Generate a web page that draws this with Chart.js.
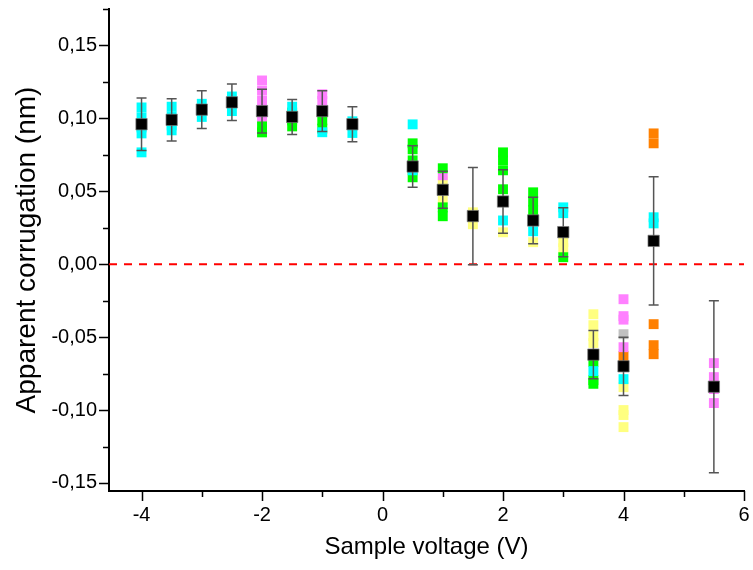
<!DOCTYPE html>
<html>
<head>
<meta charset="utf-8">
<script src="https://cdn.jsdelivr.net/npm/chart.js@4.4.1/dist/chart.umd.min.js"></script>
<style>
  html, body { margin: 0; padding: 0; background: #fff; }
  #wrap { width: 753px; height: 570px; }
</style>
</head>
<body>
<div id="wrap"><canvas id="chart" width="753" height="570"></canvas></div>
<script>
// mean values with error bars (black squares)
const voltages = [-4, -3.5, -3, -2.5, -2, -1.5, -1, -0.5, 0.5, 1, 1.5, 2, 2.5, 3, 3.5, 4, 4.5, 5.5];
const meanCorr = [0.096, 0.099, 0.106, 0.111, 0.105, 0.101, 0.105, 0.096, 0.067, 0.051, 0.033, 0.043, 0.030, 0.022, -0.062, -0.070, 0.016, -0.084];
const errCorr  = [0.018, 0.0145, 0.013, 0.0125, 0.015, 0.012, 0.014, 0.012, 0.0143, 0.0127, 0.0333, 0.0217, 0.016, 0.0168, 0.0165, 0.020, 0.044, 0.059];

// single measurements, one list per colour: [voltage, corrugation]
const cyanPts = [[-4, 0.1075], [-4, 0.1007], [-4, 0.0938], [-4, 0.0897], [-4, 0.0767],
  [-3.5, 0.108], [-3.5, 0.1014], [-3.5, 0.0952], [-3.5, 0.0918],
  [-3, 0.110], [-3, 0.1055], [-3, 0.101],
  [-2.5, 0.115], [-2.5, 0.110], [-2.5, 0.105],
  [-1.5, 0.108], [-1, 0.0905], [-0.5, 0.098], [-0.5, 0.090],
  [0.5, 0.0959], [0.5, 0.0644], [2, 0.030], [2.5, 0.0226], [3, 0.039], [3, 0.035],
  [3.5, -0.0733], [4, -0.0788], [4.5, 0.0322], [4.5, 0.028]];
const greenPts = [[-2, 0.0945], [-2, 0.0904],
  [-1.5, 0.104], [-1.5, 0.0986], [-1.5, 0.0945],
  [-1, 0.0986], [-1, 0.093],
  [0.5, 0.0829], [0.5, 0.0788], [0.5, 0.0712], [0.5, 0.0596],
  [1, 0.0658], [1, 0.039], [1, 0.0329],
  [2, 0.0767], [2, 0.0712], [2, 0.0644], [2, 0.0514],
  [2.5, 0.0493], [2.5, 0.043], [2.5, 0.037],
  [3, 0.0048], [3.5, -0.067], [3.5, -0.0795], [3.5, -0.082]];
const magentaPts = [[-2, 0.126], [-2, 0.119], [-2, 0.112], [-2, 0.100],
  [-1, 0.1165], [-1, 0.112], [1, 0.061],
  [4, -0.024], [4, -0.0356], [4, -0.038], [4, -0.0569],
  [5.5, -0.0678], [5.5, -0.0774], [5.5, -0.0856], [5.5, -0.0952]];
const yellowPts = [[1, 0.0569], [1, 0.0452], [1.5, 0.0356], [1.5, 0.0274],
  [2, 0.0219], [2.5, 0.0151], [3, 0.0151], [3, 0.0110],
  [3.5, -0.0343], [3.5, -0.0418], [3.5, -0.0493], [3.5, -0.054],
  [4, -0.0843], [4, -0.100], [4, -0.1034], [4, -0.1117]];
const orangePts = [[4, -0.063], [4.5, 0.0897], [4.5, 0.0829], [4.5, -0.0411], [4.5, -0.0555], [4.5, -0.0617]];
const grayPts = [[4, -0.048]];

const xTicks = [-4, -2, 0, 2, 4, 6];
const yTicks = [-0.15, -0.10, -0.05, 0, 0.05, 0.10, 0.15];
const xMin = -4.54, xMax = 6;
const yMin = -0.1555, yMax = 0.175;

const toXY = pts => pts.map(p => ({ x: p[0], y: p[1] }));

function squares(pts, color) {
  return {
    type: 'scatter',
    data: toXY(pts),
    pointStyle: 'rect',
    pointRadius: 7,
    pointHoverRadius: 7,
    backgroundColor: color,
    borderWidth: 0
  };
}

// error bars drawn just before the black squares
const errorBars = {
  id: 'errorBars',
  beforeDatasetDraw(chart, args) {
    if (args.index !== 0) return;
    const { ctx, scales: { x, y } } = chart;
    ctx.save();
    ctx.strokeStyle = '#555';
    ctx.lineWidth = 1.5;
    voltages.forEach((v, i) => {
      const px = x.getPixelForValue(v);
      const top = y.getPixelForValue(meanCorr[i] + errCorr[i]);
      const bot = y.getPixelForValue(meanCorr[i] - errCorr[i]);
      ctx.beginPath();
      ctx.moveTo(px, top); ctx.lineTo(px, bot);
      ctx.moveTo(px - 5, top); ctx.lineTo(px + 5, top);
      ctx.moveTo(px - 5, bot); ctx.lineTo(px + 5, bot);
      ctx.stroke();
    });
    ctx.restore();
  }
};

// outward major + minor tick marks
const axisTicks = {
  id: 'axisTicks',
  afterDraw(chart) {
    const { ctx, chartArea: a, scales: { x, y } } = chart;
    ctx.save();
    ctx.strokeStyle = '#000';
    ctx.lineWidth = 1.5;
    ctx.beginPath();
    xTicks.forEach(v => {
      const px = Math.round(x.getPixelForValue(v)) + 0.5;
      ctx.moveTo(px, a.bottom); ctx.lineTo(px, a.bottom + 10);
      const m = v + 1;
      if (m <= xMax + 1e-9) {
        const pm = Math.round(x.getPixelForValue(m)) + 0.5;
        ctx.moveTo(pm, a.bottom); ctx.lineTo(pm, a.bottom + 6);
      }
    });
    yTicks.forEach(v => {
      const py = Math.round(y.getPixelForValue(v)) + 0.5;
      ctx.moveTo(a.left, py); ctx.lineTo(a.left - 10, py);
      const m = v + 0.025;
      if (m <= yMax + 1e-9) {
        const pm = Math.round(y.getPixelForValue(m)) + 0.5;
        ctx.moveTo(a.left, pm); ctx.lineTo(a.left - 6, pm);
      }
    });
    ctx.stroke();
    ctx.restore();
  }
};

const font = { family: 'Arial, "Liberation Sans", sans-serif', size: 20 };

new Chart(document.getElementById('chart'), {
  data: {
    datasets: [
      {
        type: 'scatter',
        data: voltages.map((v, i) => ({ x: v, y: meanCorr[i] })),
        pointStyle: 'rect',
        pointRadius: 8,
        pointHoverRadius: 8,
        backgroundColor: '#000',
        borderColor: 'rgba(120,120,120,0.7)',
        borderWidth: 1
      },
      squares(cyanPts, '#00ffff'),
      squares(greenPts, '#00ff00'),
      squares(magentaPts, '#ff80ff'),
      squares(yellowPts, '#ffff80'),
      squares(orangePts, '#ff8000'),
      squares(grayPts, '#c0c0c0'),
      {
        type: 'line',
        data: [{ x: xMin, y: 0 }, { x: xMax, y: 0 }],
        borderColor: '#ff0000',
        borderWidth: 2,
        borderDash: [8, 7],
        pointRadius: 0,
        fill: false
      }
    ]
  },
  options: {
    responsive: false,
    animation: false,
    layout: { padding: { left: 0, right: 7, top: 8, bottom: 0 } },
    plugins: {
      legend: { display: false },
      tooltip: { enabled: false }
    },
    scales: {
      x: {
        type: 'linear',
        min: xMin,
        max: xMax,
        afterBuildTicks: s => { s.ticks = xTicks.map(v => ({ value: v })); },
        afterFit: s => { s.height = 79; s.paddingLeft = 0; s.paddingRight = 0; },
        ticks: { font: font, color: '#000', padding: 12, maxRotation: 0, callback: v => String(v) },
        grid: { display: false, drawTicks: false },
        border: { color: '#000', width: 2 },
        title: {
          display: true,
          text: 'Sample voltage (V)',
          color: '#000',
          font: { family: font.family, size: 24 },
          padding: { top: 0, bottom: 8 }
        }
      },
      y: {
        type: 'linear',
        min: yMin,
        max: yMax,
        afterBuildTicks: s => { s.ticks = yTicks.map(v => ({ value: v })); },
        afterFit: s => { s.width = 109; s.paddingTop = 0; s.paddingBottom = 0; },
        ticks: { font: font, color: '#000', padding: 12, callback: v => v.toFixed(2).replace('.', ',') },
        grid: { display: false, drawTicks: false },
        border: { color: '#000', width: 2 },
        title: {
          display: true,
          text: 'Apparent corrugation (nm)',
          color: '#000',
          font: { family: font.family, size: 28 },
          padding: { top: 10, bottom: 0 }
        }
      }
    }
  },
  plugins: [errorBars, axisTicks]
});
</script>
</body>
</html>
